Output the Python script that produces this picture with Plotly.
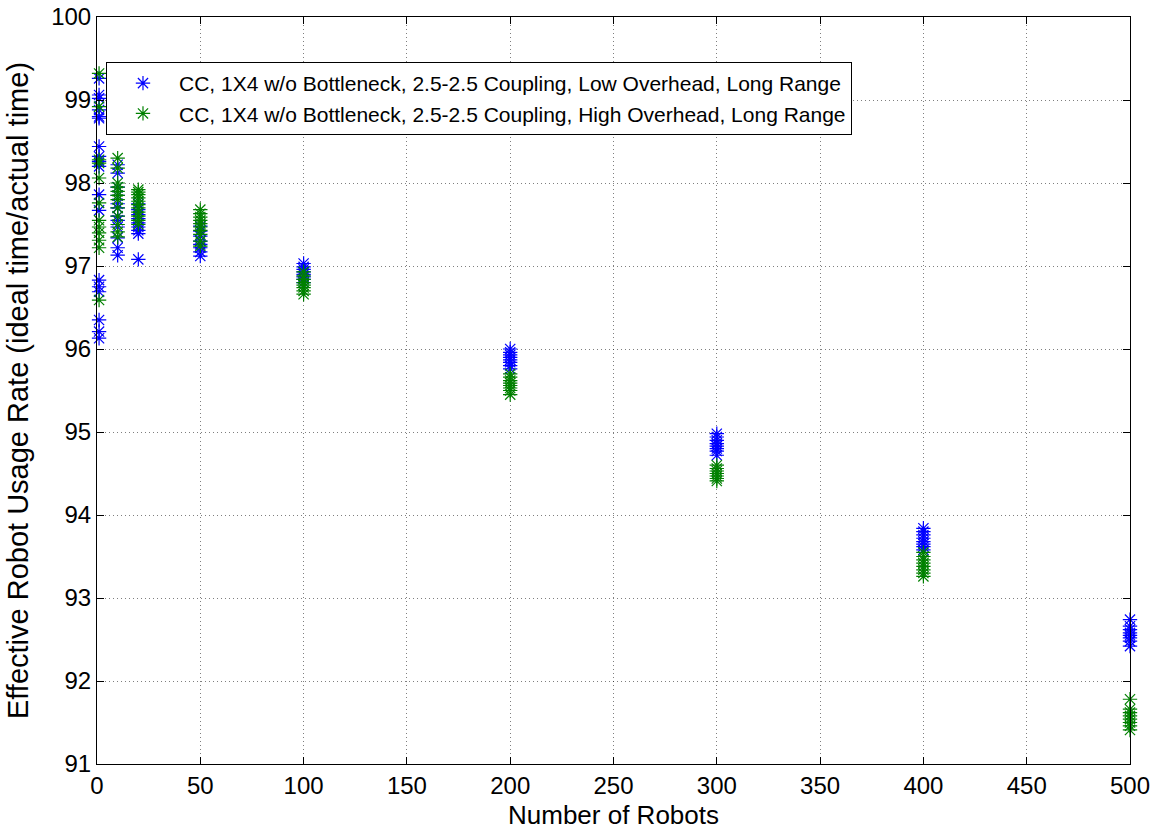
import plotly.graph_objects as go

robots = [1, 10, 20, 50, 100, 200, 300, 400, 500]

low_overhead = {
    1: [99.26, 99.06, 99.02, 98.88, 98.80, 98.78, 98.44, 98.32, 98.26, 98.20, 97.86, 97.67,
        96.83, 96.75, 96.69, 96.35, 96.21, 96.13],
    10: [98.22, 98.12, 97.95, 97.85, 97.75, 97.70, 97.60, 97.55, 97.47, 97.34, 97.22, 97.13],
    20: [97.75, 97.68, 97.62, 97.57, 97.52, 97.47, 97.43, 97.39, 97.08],
    50: [97.48, 97.42, 97.36, 97.30, 97.26, 97.22, 97.17, 97.12],
    100: [97.03, 96.99, 96.96, 96.93, 96.90, 96.87, 96.84, 96.80],
    200: [96.00, 95.96, 95.93, 95.90, 95.87, 95.84, 95.80, 95.76],
    300: [94.98, 94.94, 94.90, 94.86, 94.83, 94.80, 94.77, 94.72],
    400: [93.84, 93.80, 93.76, 93.72, 93.68, 93.65, 93.62, 93.58],
    500: [92.74, 92.66, 92.62, 92.58, 92.55, 92.52, 92.48, 92.42],
}

high_overhead = {
    1: [99.32, 98.92, 98.28, 98.24, 98.06, 97.76, 97.55, 97.47, 97.40, 97.31, 97.22, 96.59],
    10: [98.30, 98.18, 98.00, 97.95, 97.90, 97.85, 97.80, 97.70, 97.60, 97.50, 97.41, 97.35],
    20: [97.92, 97.89, 97.86, 97.82, 97.78, 97.74, 97.70, 97.65, 97.60, 97.55, 97.50],
    50: [97.68, 97.63, 97.59, 97.55, 97.51, 97.47, 97.43, 97.38, 97.30, 97.24],
    100: [96.93, 96.88, 96.84, 96.80, 96.77, 96.74, 96.70, 96.66],
    200: [95.70, 95.66, 95.62, 95.59, 95.56, 95.53, 95.50, 95.45],
    300: [94.60, 94.56, 94.53, 94.50, 94.47, 94.44, 94.41],
    400: [93.55, 93.50, 93.46, 93.42, 93.38, 93.34, 93.30, 93.26],
    500: [91.78, 91.66, 91.62, 91.58, 91.54, 91.50, 91.46, 91.41],
}

series_names = [
    "CC, 1X4 w/o Bottleneck, 2.5-2.5 Coupling, Low Overhead, Long Range",
    "CC, 1X4 w/o Bottleneck, 2.5-2.5 Coupling, High Overhead, Long Range",
]
series_colors = ["rgb(0,0,255)", "rgb(0,128,0)"]

x_ticks = [0, 50, 100, 150, 200, 250, 300, 350, 400, 450, 500]
y_ticks = [91, 92, 93, 94, 95, 96, 97, 98, 99, 100]


def flatten(data):
    xs, ys = [], []
    for r in robots:
        for v in data[r]:
            xs.append(r)
            ys.append(v)
    return xs, ys


fig = go.Figure()
for data, name, color in zip([low_overhead, high_overhead], series_names, series_colors):
    xs, ys = flatten(data)
    fig.add_trace(go.Scatter(
        x=xs, y=ys, mode="markers", name=name, cliponaxis=False,
        marker=dict(symbol="asterisk-open", size=12, color=color,
                    line=dict(color=color, width=1.2)),
    ))

font_family = "Liberation Sans, Arial, sans-serif"
axis_common = dict(
    showline=True, linecolor="black", linewidth=1, mirror="ticks",
    ticks="inside", ticklen=7, tickcolor="black",
    showgrid=True, gridcolor="rgba(0,0,0,0.5)", gridwidth=1, griddash="1px,3px",
    zeroline=False, automargin=False, ticklabeloverflow="allow",
    tickfont=dict(size=24, color="black", family=font_family),
)

fig.update_layout(
    width=1157, height=830,
    margin=dict(l=97, r=27, t=17, b=66),
    paper_bgcolor="white", plot_bgcolor="white",
    font=dict(family=font_family, color="black"),
    showlegend=True,
    legend=dict(
        x=0.0087, y=0.9398, xanchor="left", yanchor="top",
        bgcolor="white", bordercolor="black", borderwidth=1,
        itemwidth=62,
        font=dict(size=21, color="black", family=font_family),
    ),
    xaxis=dict(range=[0, 500], tickvals=x_ticks, **axis_common),
    yaxis=dict(range=[91, 100], tickvals=y_ticks,
               title=dict(text="Effective Robot Usage Rate (ideal time/actual time)",
                          font=dict(size=29), standoff=14),
               **axis_common),
    annotations=[dict(
        text="Number of Robots", xref="paper", yref="paper",
        x=0.5, y=-0.0683, xanchor="center", yanchor="middle",
        showarrow=False, font=dict(size=26, color="black", family=font_family),
    )],
)

fig.write_html("out.html", config={"displayModeBar": False},
               post_script="document.body.style.margin='0';")
